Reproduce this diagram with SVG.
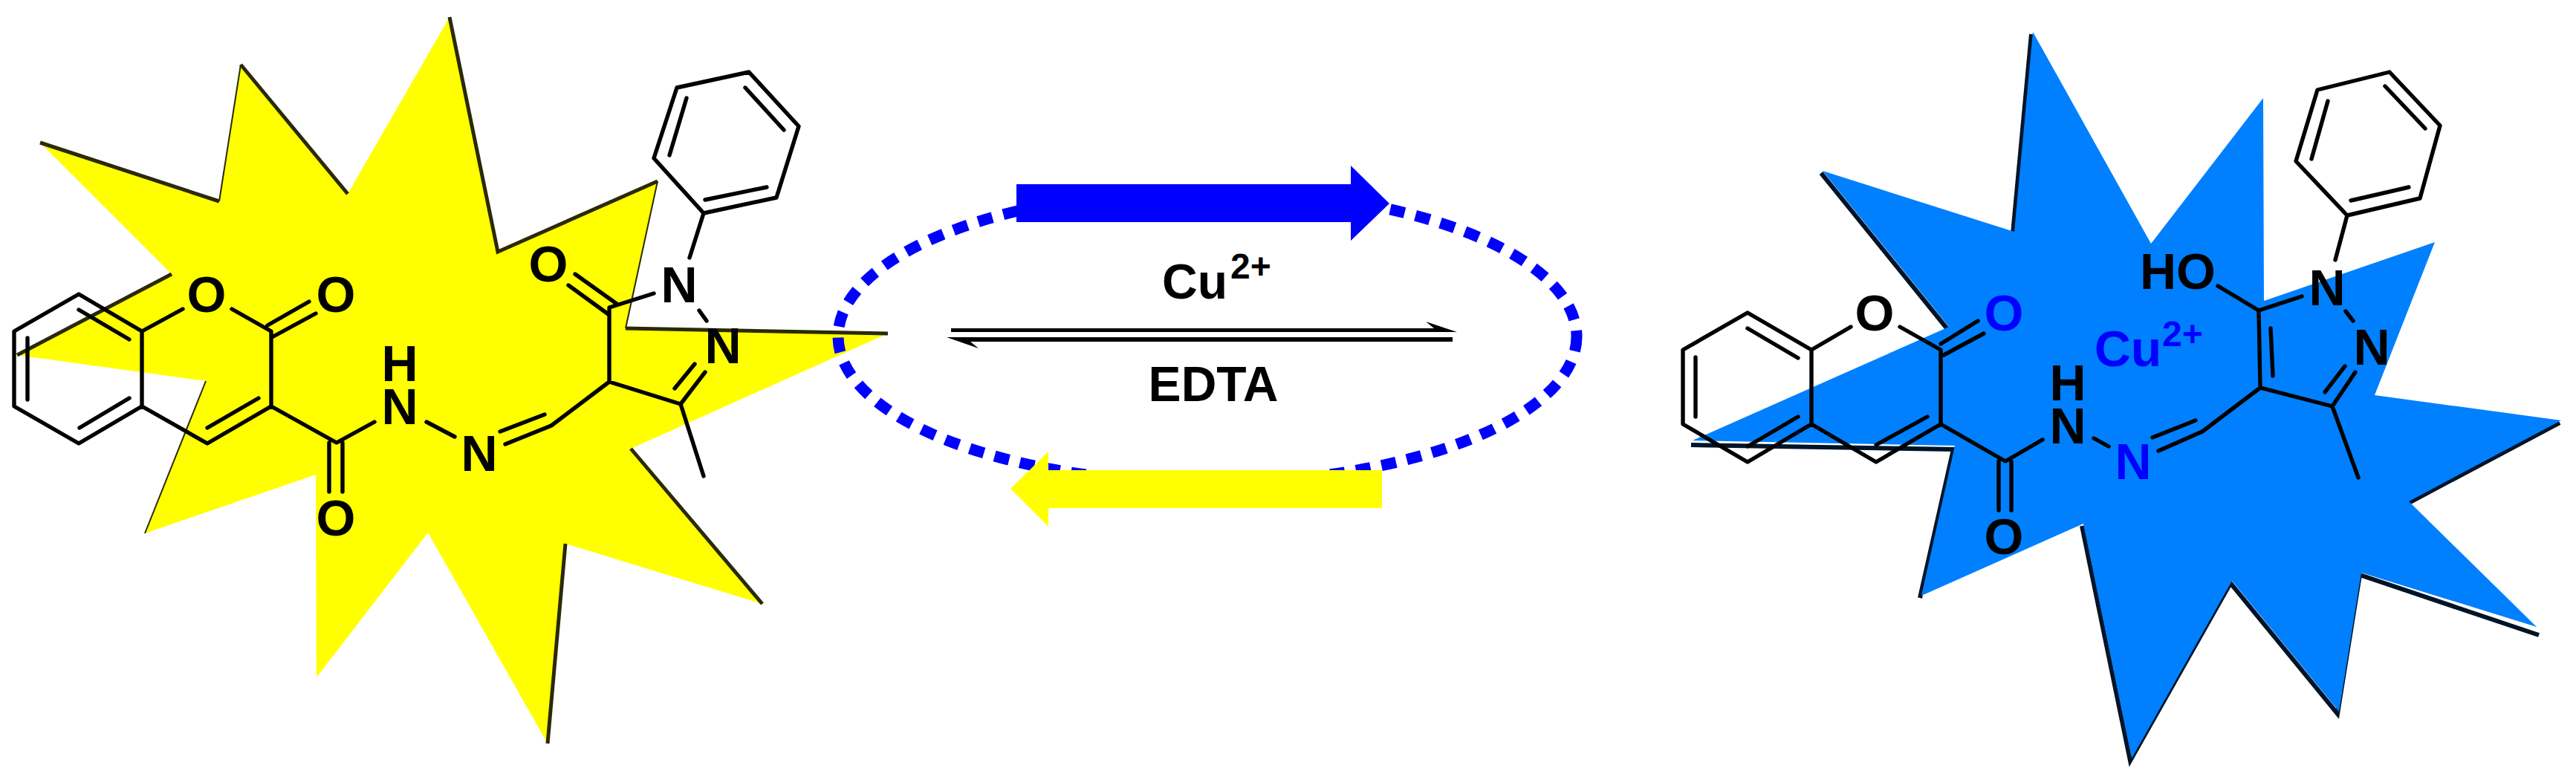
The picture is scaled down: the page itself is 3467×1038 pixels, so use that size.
<svg xmlns="http://www.w3.org/2000/svg" width="3467" height="1038" viewBox="0 0 3467 1038">
<style>
.bond{fill:none;stroke:#000;stroke-width:5.4;stroke-linecap:round;stroke-linejoin:round}
.edge{fill:none;stroke:#2a2a08;stroke-width:5}
.thin{fill:none;stroke:#2a2a08;stroke-width:2}
.edge2{fill:none;stroke:#001428;stroke-width:6}
.t{font-family:"Liberation Sans",Arial,sans-serif;font-weight:700;font-size:68px;text-anchor:middle;fill:#000}
.m{font-size:66px}
.b{fill:#0000ff}
.sup{font-size:48px;text-anchor:start}
</style>
<rect width="3467" height="1038" fill="#fff"/>
<g id="star-left">
<polygon fill="#ffff00" points="605,23 670,339 885,244 842,442 1195,449 849,604 1026,813 761,732 737,1001 576,717 426,912 425,639 195,718 277,513 23,478 231,369 54,192 295,271 324,87 468,261"/>
<path class="edge" d="M54,192L295,271M324,87L468,261M605,23L670,339L885,244M842,442L1195,449M849,604L1026,813M761,732L737,1001M231,369L23,478"/>
<path class="thin" d="M885,244L842,442M277,513L195,718M324,87L295,271"/>
</g>
<g id="star-right">
<path class="edge2" transform="translate(-2,3)" d="M2453,230L2623,440M2736,43L2711,312M2278,596L2631,602L2586,802M2804,705L2869,1021L3004,782L3148,958L3178,771L3419,852M3447,566L3242,675"/>
<polygon fill="#0080ff" points="2736,43 2895,328 3046,132 3047,405 3277,326 3196,532 3447,566 3242,675 3414,844 3178,771 3148,958 3004,782 2869,1021 2804,705 2586,802 2631,600 2278,593 2623,440 2453,230 2711,312"/>
</g>
<g id="cycle">
<ellipse cx="1625" cy="453" rx="497" ry="197" fill="none" stroke="#0000ff" stroke-width="15" stroke-dasharray="20 15"/>
<polygon id="arrow-blue" fill="#0000ff" points="1368,248 1818,248 1818,223 1870,274 1818,324 1818,299 1368,299"/>
<polygon id="arrow-yellow" fill="#ffff00" points="1860,633 1411,633 1411,608 1360,658 1411,709 1411,684 1860,684"/>
</g>
<g id="equilibrium">
<polygon fill="#000" points="1280,442 1930,442 1919,433 1961,447 1280,447"/>
<polygon fill="#000" points="1955,454 1955,460 1306,460 1317,469 1274,454"/>
<text class="t m" x="1608" y="402">Cu</text>
<text class="t sup" x="1656" y="375">2+</text>
<text class="t m" x="1633" y="540">EDTA</text>
</g>
<g id="molecule-left">
<path class="bond" d="M106,396L191,446L191,547L106,597L19,547L19,446ZM106,417L174,457M37,455L37,538M107,576L174,536M191,446L246,416M312,416L365,446L365,547L279,597L191,547M279,576L348,536M360,438L416,406M366,454L425,422M365,547L453,596L504,568M443,596L443,662M461,596L461,662M574,568L612,588M673,581L733,558M680,598L742,573L820,514L820,414L880,395M774,369L830,409M765,384L820,424M820,514L916,544L947,641M916,544L949,501M908,523L935,490M941,418L951,432M947,287L928,347M947,287L880,213L911,118L1008,97L1075,170L1045,266ZM949,269L1032,252M901,209L924,132M1003,118L1055,175"/>
<text class="t" x="278" y="420">O</text>
<text class="t" x="452" y="420">O</text>
<text class="t" x="452" y="721">O</text>
<text class="t"><tspan x="538" y="513">H</tspan><tspan x="538" y="571">N</tspan></text>
<text class="t" x="645" y="634">N</text>
<text class="t" x="738" y="379">O</text>
<text class="t" x="914" y="407">N</text>
<text class="t" x="973" y="489">N</text>
</g>
<g id="molecule-right">
<path class="bond" d="M2352,421L2438,471L2438,571L2352,622L2265,571L2265,471ZM2352,442L2420,482M2282,481L2282,561M2352,601L2420,561M2438,471L2491,440M2557,440L2612,471L2612,571L2525,622L2438,571M2525,599L2594,561M2612,463L2662,432M2616,478L2670,449M2612,571L2699,621L2749,592M2690,621L2690,687M2707,621L2707,687M2818,590L2838,601M2897,589L2955,566M2905,607L2964,581L3042,522L3040,418L3098,399M3056,442L3059,506M3042,522L3139,547L3174,643M3139,547L3170,501M3129,528L3156,493M3157,419L3167,432M2985,385L3040,418M3159,290L3143,350M3159,290L3090,217L3119,121L3216,97L3284,169L3257,267ZM3164,270L3242,252M3111,214L3133,136M3210,116L3264,173"/>
<text class="t" x="2523" y="445">O</text>
<text class="t b" x="2697" y="445">O</text>
<text class="t" x="2697" y="746">O</text>
<text class="t"><tspan x="2783" y="539">H</tspan><tspan x="2783" y="597">N</tspan></text>
<text class="t b" x="2871" y="645">N</text>
<text class="t" x="2931" y="389">HO</text>
<text class="t" x="3132" y="411">N</text>
<text class="t" x="3192" y="491">N</text>
<text class="t b" x="2864" y="493">Cu</text>
<text class="t b sup" x="2910" y="466">2+</text>
</g>
</svg>
